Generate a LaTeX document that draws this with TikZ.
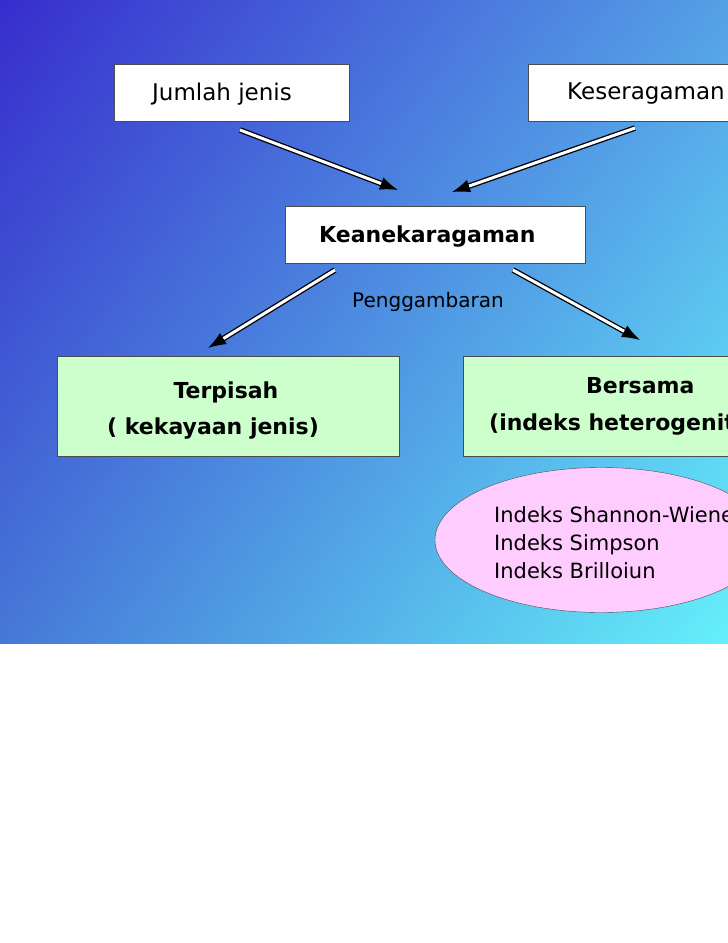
\documentclass[tikz,border=0pt]{standalone}
\usepackage{fontspec}
\setmainfont{DejaVu Sans}
\usetikzlibrary{arrows.meta,shapes.geometric,shadings}
\definecolor{bgA}{RGB}{55,45,205}
\definecolor{bgB}{RGB}{85,160,230}
\definecolor{bgC}{RGB}{70,120,215}
\definecolor{bgD}{RGB}{100,240,250}
\definecolor{boxg}{RGB}{204,255,204}
\definecolor{pinkf}{RGB}{255,204,255}
\tikzset{
  box/.style={draw=black!70, line width=0.6pt, minimum height=57pt},
  gbox/.style={box, fill=boxg, minimum height=100pt},
  big/.style={font=\fontsize{23}{28}\selectfont, anchor=west, inner sep=0pt},
  bigb/.style={font=\bfseries\fontsize{22}{28}\selectfont, anchor=west, inner sep=0pt},
  dblarrow/.style={double=white, double distance=3pt, line width=1.3pt, -{Latex[length=18pt,width=13pt]}},
}
\begin{document}
\begin{tikzpicture}[x=1pt,y=-1pt]
\useasboundingbox (0,0) rectangle (728,943);
\fill[white] (0,0) rectangle (728,943);
\begin{scope}
\clip (0,0) rectangle (728,643);
\shade[upper left=bgA, upper right=bgB, lower left=bgC, lower right=bgD] (0,0) rectangle (728,643);
\node[box, fill=white, minimum width=235pt] (j) at (231.5,92.5) {};
\node[big] (jt) at (152,94) {Jumlah jenis};
\node[box, fill=white, minimum width=260pt, anchor=west] (k) at (528,92.5) {};
\node[big] (kt) at (567,94) {Keseragaman};
\node[box, fill=white, minimum width=300pt] (ka) at (435,235) {};
\node[bigb] (kat) at (319,237) {Keanekaragaman};
\node[gbox, minimum width=342pt] (t) at (228,406) {};
\node[bigb, anchor=center] (tt1) at (226,392) {Terpisah};
\node[bigb] (tt2) at (107,429) {( kekayaan jenis)};
\node[gbox, minimum width=300pt, anchor=west] (b) at (463,406) {};
\node[bigb] (bt1) at (586,386) {Bersama};
\node[bigb] (bt2) at (489,425) {(indeks heterogenitas)};
\node[ellipse, draw=black!70, fill=pinkf, minimum width=332pt, minimum height=145pt] (e) at (601,540) {};
\node[anchor=north west, align=left, inner sep=0pt, font=\fontsize{21}{28}\selectfont] (et) at (494,506) {Indeks Shannon-Wiener\\Indeks Simpson\\Indeks Brilloiun};
\node[font=\fontsize{20}{24}\selectfont] (pg) at (428,302) {Penggambaran};
\coordinate (a1) at (240,130); \coordinate (a2) at (398,190);
\coordinate (b1) at (635,128); \coordinate (b2) at (452,192);
\coordinate (c1) at (335,270); \coordinate (c2) at (208,348);
\coordinate (d1) at (513,270); \coordinate (d2) at (640,340);
\draw[dblarrow] (a1) -- (a2);
\draw[dblarrow] (b1) -- (b2);
\draw[dblarrow] (c1) -- (c2);
\draw[dblarrow] (d1) -- (d2);
\end{scope}
\end{tikzpicture}
\end{document}
